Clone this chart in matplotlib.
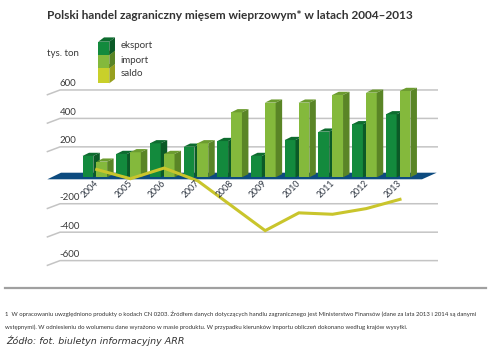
import matplotlib
matplotlib.use('Agg')
import matplotlib.pyplot as plt
from matplotlib.patches import Polygon

# ---- data ----
years = ['2004', '2005', '2006', '2007', '2008', '2009', '2010', '2011', '2012', '2013']
eksport = [150, 164, 239, 215, 255, 150, 262, 321, 373, 443]
import_ = [110, 176, 164, 239, 457, 525, 525, 579, 595, 607]
saldo = [55, -10, 65, -25, -200, -375, -250, -260, -220, -155]
tick_values = [-600, -400, -200, 200, 400, 600]
tick_labels = ['-600', '-400', '-200', '200', '400', '600']
series_names = ['eksport', 'import', 'saldo']

FONT = ['Lato', 'DejaVu Sans']
plt.rcParams['font.family'] = FONT

W, H = 500, 346
fig = plt.figure(figsize=(W / 100, H / 100), dpi=100)

# pixel geometry
X0, XS = 95.0, 33.7      # pixel x of first group centre, px per year
Y0, YS = 177.3, 0.1422   # pixel y of value 0 (front plane), px per unit
ax_l, ax_r, ax_t, ax_b = 40, 445, 70, 270
ax = fig.add_axes([ax_l / W, 1 - ax_b / H, (ax_r - ax_l) / W, (ax_b - ax_t) / H])
ax.set_xlim((ax_l - X0) / XS, (ax_r - X0) / XS)
ax.set_ylim((Y0 - ax_b) / YS, (Y0 - ax_t) / YS)
ax.axis('off')

def X(px):
    return (px - X0) / XS

def Y(py):
    return (Y0 - py) / YS

# floor
floor = Polygon([(X(47.3), Y(179.3)), (X(422), Y(179.3)), (X(436.7), Y(172.7)), (X(61), Y(172.7))],
                closed=True, facecolor='#0d4b7f', edgecolor='none', zorder=2)
ax.add_patch(floor)

# back-wall gridlines with perspective stubs
back_shift = (Y0 - 175.3) / YS
for v, lab in zip(tick_values, tick_labels):
    yb = v + back_shift
    ax.plot([X(46.7), X(60), X(438)], [yb - 5 / YS, yb, yb], color='#c4c4c4', lw=1.1, zorder=1,
            solid_capstyle='butt')
    ax.text(X(59.5), yb + 1.5 / YS, lab, ha='left', va='bottom', fontsize=7, color='#3a3a3a', zorder=1)

# 3D bars
dx, dy = 6.5 / XS, 3.2 / YS
bw = 0.32
styles = [
    (eksport, -0.21, ('#138a3d', '#0d6c2f', '#0b5a27'), 3),
    (import_, 0.20, ('#84b93c', '#6c9c2f', '#5a8526'), 4),
]
xs = list(range(len(years)))
for vals, off, (cf, ct, cs), z in styles:
    pos = [x + off for x in xs]
    ax.bar(pos, vals, width=bw, color=cf, edgecolor='none', zorder=z)
    for p, h in zip(pos, vals):
        l, r = p - bw / 2, p + bw / 2
        ax.add_patch(Polygon([(l, h), (r, h), (r + dx, h + dy), (l + dx, h + dy)],
                             closed=True, facecolor=ct, edgecolor='none', zorder=z))
        ax.add_patch(Polygon([(r, 0), (r + dx, dy), (r + dx, h + dy), (r, h)],
                             closed=True, facecolor=cs, edgecolor='none', zorder=z))

# saldo line
ax.plot([x + 0.05 for x in xs], saldo, color='#c9c52c', lw=2.2, zorder=6, solid_joinstyle='miter')

# year labels
for x, yr in zip(xs, years):
    ax.text(x - 0.15, Y(189), yr, rotation=45, ha='center', va='center', fontsize=6.3,
            color='#2c3440', zorder=7)

# ---- decorations in pixel space ----
ov = fig.add_axes([0, 0, 1, 1], zorder=-1)
ov.set_xlim(0, W)
ov.set_ylim(H, 0)
ov.axis('off')

ov.text(46.7, 15.5, 'Polski handel zagraniczny mięsem wieprzowym* w latach 2004–2013',
        fontsize=8.6, fontweight='bold', color='#333333', ha='left', va='center')
ov.text(46.7, 54, 'tys. ton', fontsize=7, color='#3a3a3a', ha='left', va='center')

# legend cubes
leg_colors = [('#138a3d', '#0d6c2f', '#0b5a27'),
              ('#84b93c', '#6c9c2f', '#5a8526'),
              ('#c9d02a', '#a9ae22', '#98a01e')]
leg_boxes = [(41.7, 55), (55, 68.3), (68.3, 83.3)]
leg_text_y = [45.7, 60.7, 73.3]
ldx, ldy = 5.7, 4.3
for name, (cf, ct, cs), (t, b), ty in reversed(list(zip(series_names, leg_colors, leg_boxes, leg_text_y))):
    l, r = 98.3, 109.3
    ov.add_patch(Polygon([(l, t), (r, t), (r + ldx, t - ldy), (l + ldx, t - ldy)], closed=True,
                         facecolor=ct, edgecolor='none'))
    ov.add_patch(Polygon([(r, t), (r + ldx, t - ldy), (r + ldx, b - ldy), (r, b)], closed=True,
                         facecolor=cs, edgecolor='none'))
    ov.add_patch(Polygon([(l, t), (r, t), (r, b), (l, b)], closed=True, facecolor=cf, edgecolor='none'))
    ov.text(120.5, ty, name, fontsize=7, color='#3a3a3a', ha='left', va='center')

# footnote
ov.plot([5, 486], [288.3, 288.3], color='#a0a0a0', lw=1.6)
ov.text(5, 314, '1  W opracowaniu uwzględniono produkty o kodach CN 0203. Źródłem danych dotyczących handlu '
        'zagranicznego jest Ministerstwo Finansów (dane za lata 2013 i 2014 są danymi',
        fontsize=4.35, color='#333333', ha='left', va='center')
ov.text(5, 327, 'wstępnymi). W odniesieniu do wolumenu dane wyrażono w masie produktu. W przypadku kierunków '
        'importu obliczeń dokonano według krajów wysyłki.',
        fontsize=4.35, color='#333333', ha='left', va='center')
ov.text(6.7, 340.5, 'Źódło: fot. biuletyn informacyjny ARR', fontsize=6.8, style='italic',
        color='#333333', ha='left', va='center', family=['DejaVu Sans'])

fig.savefig('out.png', dpi=100)
